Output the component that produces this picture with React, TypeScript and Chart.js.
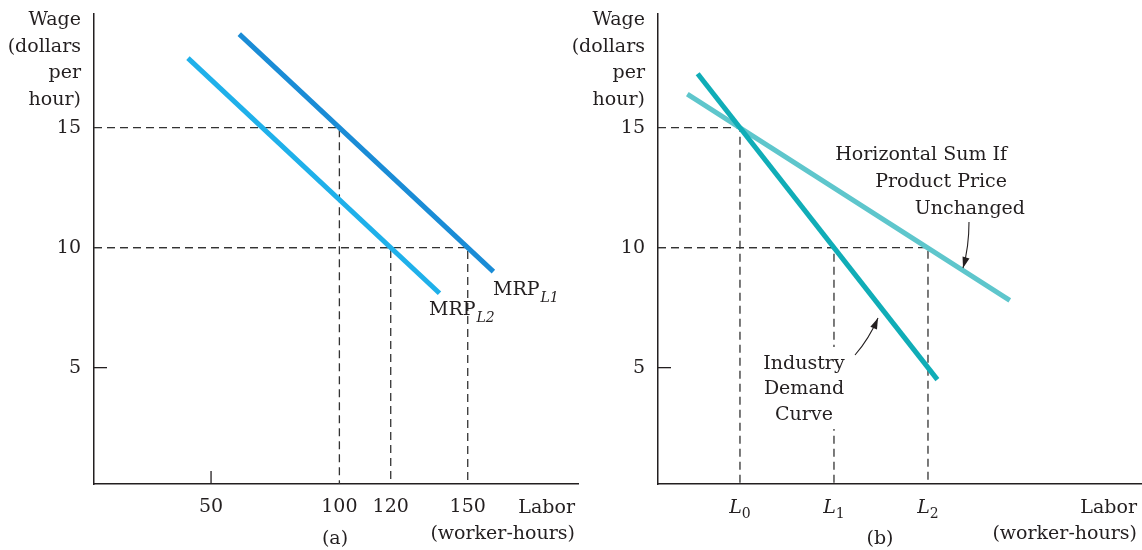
import React, { useEffect, useRef } from "react";
import { Chart, registerables } from "chart.js";
Chart.register(...registerables);

const FONT = '"DejaVu Serif", "Liberation Serif", serif';
const INK = "#231f20";
const GUIDE_INK = "#333333";
const FS = 19;

// ---------- shared axis data
const yTickValues = [5, 10, 15];
const yTitle = ["Wage", "(dollars", "per", "hour)"];
const xTitle = ["Labor", "(worker-hours)"];

// ---------- panel (a)
const aXTickValues = [50, 100, 120, 150];
const aXTickLabels = ["50", "100", "120", "150"];
const mrpL1 = [
  { x: 61, y: 18.9 },
  { x: 160, y: 9.0 },
];
const mrpL2 = [
  { x: 41, y: 17.9 },
  { x: 139, y: 8.1 },
];
const aGuides = [
  { x: 100, y: 15 },
  { x: 150, y: 10 },
  { x: 120, y: 10 },
];

// ---------- panel (b)
const bXTickValues = [1, 2, 3];
const bXTickSubs = ["0", "1", "2"];
const industryDemand = [
  { x: 0.55, y: 17.25 },
  { x: 3.1, y: 4.5 },
];
const horizontalSum = [
  { x: 0.44, y: 16.4 },
  { x: 3.87, y: 7.8 },
];
const bGuides = [
  { x: 1, y: 15 },
  { x: 3, y: 10 },
  { x: 2, y: 10 },
];
const hsumNote = ["Horizontal Sum If", "Product Price", "Unchanged"];
const demandNote = ["Industry", "Demand", "Curve"];

// ---------- axis ranges
const Y_MIN = 0.15;
const Y_MAX = 19.74;
const A_X_MIN = 4.4;
const A_X_MAX = 192.96;
const B_X_MIN = 0.128;
const B_X_MAX = 5.266;

const A_W = 590;
const B_LEFT = 560;
const B_W = 1142 - B_LEFT;

const COLORS = {
  l1: "#1a8cd6",
  l2: "#1fb0ea",
  demand: "#10adb7",
  hsum: "#5ec6cc",
};

function arrow(ctx: CanvasRenderingContext2D, x0: number, y0: number, cx: number, cy: number, x1: number, y1: number) {
  ctx.beginPath();
  ctx.moveTo(x0, y0);
  ctx.quadraticCurveTo(cx, cy, x1, y1);
  ctx.lineWidth = 1.1;
  ctx.stroke();
  const ang = Math.atan2(y1 - cy, x1 - cx);
  const len = 11;
  const hw = 3.6;
  const bx = x1 - Math.cos(ang) * len;
  const by = y1 - Math.sin(ang) * len;
  ctx.beginPath();
  ctx.moveTo(x1, y1);
  ctx.lineTo(bx + Math.sin(ang) * hw, by - Math.cos(ang) * hw);
  ctx.lineTo(bx - Math.sin(ang) * hw, by + Math.cos(ang) * hw);
  ctx.closePath();
  ctx.fill();
}

function withSub(ctx: CanvasRenderingContext2D, main: string, sub: string, x: number, base: number) {
  ctx.textAlign = "left";
  ctx.font = `${FS}px ${FONT}`;
  ctx.fillText(main, x, base);
  const w = ctx.measureText(main).width;
  ctx.font = `italic 14px ${FONT}`;
  ctx.fillText(sub, x + w + 1, base + 7);
}

function buildConfig(p: any) {
  const datasets: any[] = [
    ...p.curves.map((c: any) => ({
      data: c.data,
      borderColor: c.color,
      borderWidth: 5,
      pointRadius: 0,
      borderCapStyle: "butt",
      tension: 0,
      order: 0,
    })),
    ...p.guides.map((g: any) => ({
      data: [
        { x: p.xMin, y: g.y },
        { x: g.x, y: g.y },
        { x: g.x, y: Y_MIN },
      ],
      borderColor: GUIDE_INK,
      borderWidth: 1.3,
      borderDash: [8, 5],
      borderJoinStyle: "miter",
      pointRadius: 0,
      tension: 0,
      order: 1,
    })),
  ];
  return {
    type: "line",
    data: { datasets },
    options: {
      animation: false,
      responsive: false,
      devicePixelRatio: 1,
      events: [],
      layout: { padding: { top: 14, left: 0, right: p.padRight, bottom: 0 } },
      plugins: { legend: { display: false }, tooltip: { enabled: false } },
      scales: {
        x: {
          type: "linear",
          min: p.xMin,
          max: p.xMax,
          grid: { display: false, drawTicks: false },
          border: { display: true, color: INK, width: 1.5 },
          afterBuildTicks: (s: any) => {
            s.ticks = p.xTicks.map((v: number) => ({ value: v }));
          },
          afterFit: (s: any) => {
            s.height = 66;
            s.paddingLeft = 0;
            s.paddingRight = 0;
          },
          ticks: {
            display: p.showXLabels,
            autoSkip: false,
            maxRotation: 0,
            padding: 12,
            color: INK,
            font: { family: FONT, size: FS },
            callback: (_v: any, i: number) => (p.xLabels ? p.xLabels[i] : ""),
          },
        },
        y: {
          type: "linear",
          min: Y_MIN,
          max: Y_MAX,
          grid: { display: false, drawTicks: false },
          border: { display: true, color: INK, width: 1.5 },
          afterBuildTicks: (s: any) => {
            s.ticks = yTickValues.map((v) => ({ value: v }));
          },
          afterFit: (s: any) => {
            s.width = p.yAxisWidth;
            s.paddingTop = 0;
            s.paddingBottom = 0;
          },
          ticks: {
            padding: 13,
            color: INK,
            font: { family: FONT, size: FS },
            callback: (v: any) => String(v),
          },
        },
      },
    },
    plugins: [{ id: "annot", afterDraw: p.draw }],
  };
}

function commonMarks(chart: any, guides: any[], xTicks: number[], titleRight: number) {
  const { ctx, chartArea, scales } = chart;
  const xs = scales.x;
  const ys = scales.y;
  ctx.strokeStyle = INK;
  ctx.fillStyle = INK;
  ctx.lineWidth = 1.3;
  yTickValues
    .filter((v) => !guides.some((g) => g.y === v))
    .forEach((v) => {
      const py = ys.getPixelForValue(v);
      ctx.beginPath();
      ctx.moveTo(chartArea.left, py);
      ctx.lineTo(chartArea.left + 13, py);
      ctx.stroke();
    });
  xTicks
    .filter((v) => !guides.some((g) => g.x === v))
    .forEach((v) => {
      const px = xs.getPixelForValue(v);
      ctx.beginPath();
      ctx.moveTo(px, chartArea.bottom);
      ctx.lineTo(px, chartArea.bottom - 13);
      ctx.stroke();
    });
  ctx.font = `${FS}px ${FONT}`;
  ctx.textAlign = "right";
  ctx.textBaseline = "alphabetic";
  yTitle.forEach((t, i) => ctx.fillText(t, chartArea.left - 13, 25 + i * 26.5));
  xTitle.forEach((t, i) => ctx.fillText(t, titleRight, 513 + i * 25.5));
}

function drawA(chart: any) {
  const { ctx } = chart;
  ctx.save();
  commonMarks(chart, aGuides, aXTickValues, 575);
  ctx.textAlign = "center";
  ctx.font = `${FS}px ${FONT}`;
  ctx.fillText("(a)", 335, 544);
  withSub(ctx, "MRP", "L1", 493, 295);
  withSub(ctx, "MRP", "L2", 429, 315);
  ctx.restore();
}

function drawB(chart: any) {
  const { ctx, scales } = chart;
  const xs = scales.x;
  const o = B_LEFT;
  ctx.save();
  commonMarks(chart, bGuides, bXTickValues, 1137 - o);
  // L tick labels
  bXTickValues.forEach((v, i) => {
    const px = xs.getPixelForValue(v);
    ctx.font = `italic ${FS}px ${FONT}`;
    const wl = ctx.measureText("L").width;
    ctx.font = `14px ${FONT}`;
    const ws = ctx.measureText(bXTickSubs[i]).width;
    const start = px - (wl + ws) / 2;
    ctx.textAlign = "left";
    ctx.font = `italic ${FS}px ${FONT}`;
    ctx.fillText("L", start, 513);
    ctx.font = `14px ${FONT}`;
    ctx.fillText(bXTickSubs[i], start + wl, 518);
  });
  ctx.font = `${FS}px ${FONT}`;
  ctx.textAlign = "center";
  ctx.fillText("(b)", 880 - o, 544);
  // note: horizontal sum
  ctx.textAlign = "right";
  ctx.fillText(hsumNote[0], 1007 - o, 159.5);
  ctx.fillText(hsumNote[1], 1007 - o, 186.5);
  ctx.fillText(hsumNote[2], 1025 - o, 213.5);
  // note: industry demand with white backing
  ctx.fillStyle = "#ffffff";
  ctx.fillRect(758 - o, 347, 94, 82);
  ctx.fillStyle = INK;
  ctx.textAlign = "center";
  demandNote.forEach((t, i) => ctx.fillText(t, 804 - o, 368.5 + i * 25.5));
  // arrows
  arrow(ctx, 855 - o, 355, 869 - o, 339, 878 - o, 318);
  arrow(ctx, 969 - o, 222, 969 - o, 247, 963 - o, 268);
  ctx.restore();
}

export default function App() {
  const aRef = useRef<HTMLCanvasElement>(null);
  const bRef = useRef<HTMLCanvasElement>(null);
  useEffect(() => {
    const ca = new Chart(
      aRef.current as HTMLCanvasElement,
      buildConfig({
        curves: [
          { data: mrpL1, color: COLORS.l1 },
          { data: mrpL2, color: COLORS.l2 },
        ],
        guides: aGuides,
        xMin: A_X_MIN,
        xMax: A_X_MAX,
        xTicks: aXTickValues,
        xLabels: aXTickLabels,
        showXLabels: true,
        yAxisWidth: 94,
        padRight: A_W - 578,
        draw: drawA,
      }) as any
    );
    const cb = new Chart(
      bRef.current as HTMLCanvasElement,
      buildConfig({
        curves: [
          { data: industryDemand, color: COLORS.demand },
          { data: horizontalSum, color: COLORS.hsum },
        ],
        guides: bGuides,
        xMin: B_X_MIN,
        xMax: B_X_MAX,
        xTicks: bXTickValues,
        xLabels: null,
        showXLabels: false,
        yAxisWidth: 658 - B_LEFT,
        padRight: 1,
        draw: drawB,
      }) as any
    );
    return () => {
      ca.destroy();
      cb.destroy();
    };
  }, []);
  return (
    <div style={{ position: "fixed", left: 0, top: 0, width: 1142, height: 550, background: "#ffffff" }}>
      <canvas ref={aRef} width={A_W} height={550} style={{ position: "absolute", left: 0, top: 0 }} />
      <canvas ref={bRef} width={B_W} height={550} style={{ position: "absolute", left: B_LEFT, top: 0 }} />
    </div>
  );
}
